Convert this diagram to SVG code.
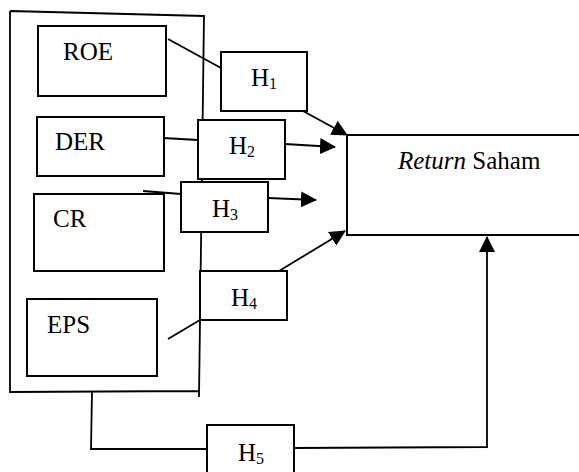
<svg xmlns="http://www.w3.org/2000/svg" width="579" height="472" viewBox="0 0 579 472">
<defs>
<style>
.box{fill:#fff;stroke:#000;stroke-width:2}
.ln{fill:none;stroke:#000;stroke-width:1.8}
text{font-family:'Liberation Serif','DejaVu Serif',serif;font-size:25px;fill:#000}
.s{font-size:16px}
</style>
<marker id="ahL" markerWidth="16" markerHeight="16" refX="15" refY="8" orient="auto" markerUnits="userSpaceOnUse" viewBox="0 0 16 16">
<path d="M0,0 L16,8 L0,16 Z" fill="#000"/>
</marker>
</defs>
<rect width="579" height="472" fill="#fff"/>
<g id="container">
<path class="ln" d="M10,11 L204,16 L199,397 M10,11 L10,392 L199,391" stroke-width="2"/>
</g>
<g id="connectors">
<line class="ln" x1="168" y1="39" x2="221" y2="68"/>
<line class="ln" x1="163" y1="138" x2="198" y2="140"/>
<line class="ln" x1="143" y1="191" x2="181" y2="194"/>
<line class="ln" x1="168" y1="339" x2="200" y2="320"/>
<line class="ln" x1="303" y1="111" x2="347" y2="135" marker-end="url(#ahL)"/>
<line class="ln" x1="285" y1="144" x2="335" y2="147" marker-end="url(#ahL)"/>
<line class="ln" x1="268" y1="198" x2="316" y2="200" marker-end="url(#ahL)"/>
<line class="ln" x1="279" y1="271" x2="345" y2="231" marker-end="url(#ahL)"/>
<polyline class="ln" points="92,391 91,449 207,449"/>
<polyline class="ln" points="294,448 487,447 487,237" marker-end="url(#ahL)"/>
</g>
<g id="return">
<rect class="box" x="347" y="135" width="240" height="100"/>
<text font-family="Liberation Serif, serif" x="398" y="169"><tspan font-style="italic">Return</tspan> Saham</text>
</g>
<g id="roe">
<rect class="box" x="38" y="26" width="128" height="70"/>
<text font-family="Liberation Serif, serif" x="63" y="60">ROE</text>
</g>
<g id="der">
<rect class="box" x="37" y="117" width="127" height="59"/>
<text font-family="Liberation Serif, serif" x="55" y="150">DER</text>
</g>
<g id="cr">
<rect class="box" x="34" y="194" width="130" height="77"/>
<text font-family="Liberation Serif, serif" x="53" y="227">CR</text>
</g>
<g id="eps">
<rect class="box" x="27" y="299" width="130" height="77"/>
<text font-family="Liberation Serif, serif" x="47" y="333">EPS</text>
</g>
<g id="h1">
<rect class="box" x="221" y="52" width="86" height="59"/>
<text font-family="Liberation Serif, serif" x="251" y="86">H<tspan class="s" dy="3">1</tspan></text>
</g>
<g id="h2">
<rect class="box" x="198" y="120" width="87" height="59"/>
<text font-family="Liberation Serif, serif" x="229" y="154">H<tspan class="s" dy="3">2</tspan></text>
</g>
<g id="h3">
<rect class="box" x="181" y="182" width="87" height="50"/>
<text font-family="Liberation Serif, serif" x="212" y="217">H<tspan class="s" dy="3">3</tspan></text>
</g>
<g id="h4">
<rect class="box" x="200" y="271" width="87" height="49"/>
<text font-family="Liberation Serif, serif" x="231" y="306">H<tspan class="s" dy="3">4</tspan></text>
</g>
<g id="h5">
<rect class="box" x="207" y="425" width="87" height="50"/>
<text font-family="Liberation Serif, serif" x="238" y="461">H<tspan class="s" dy="3">5</tspan></text>
</g>
</svg>
